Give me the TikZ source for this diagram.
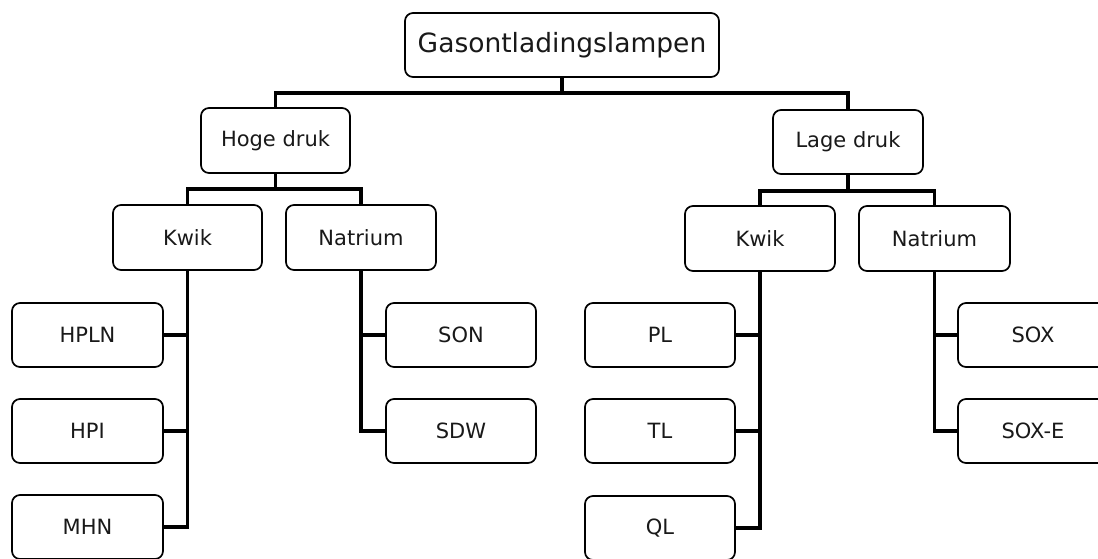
\documentclass[tikz,border=0pt]{standalone}
\usepackage{fontspec}
\setmainfont{DejaVu Sans}
\begin{document}
\begin{tikzpicture}[x=1pt,y=-1pt,
  box/.style={draw=black,line width=1.7pt,rounded corners=8pt,rectangle,inner sep=0pt,
    minimum width=150pt,minimum height=64pt,font=\fontsize{21}{25}\selectfont,text=black!90},
  topbox/.style={box,minimum width=314pt,font=\fontsize{26.5}{30}\selectfont},
  conn/.style={draw=black,line width=3.2pt,line join=miter,line cap=rect}]
\useasboundingbox (0,0) rectangle (1098,558);
\clip (0,0) rectangle (1098,558);
\fill[white] (0,0) rectangle (1098,558);
% nodes
\node[topbox] (top) at (562,45) {Gasontladingslampen};
\node[box,minimum width=149pt,minimum height=65pt] (hoge) at (275.5,140.5) {Hoge druk};
\node[box] (lage) at (848,142) {Lage druk};
\node[box,minimum width=149pt,minimum height=65pt] (lkwik) at (187.5,237.5) {Kwik};
\node[box,minimum height=65pt] (lnat) at (361,237.5) {Natrium};
\node[box,minimum height=65pt] (rkwik) at (760,238.5) {Kwik};
\node[box,minimum width=151pt,minimum height=65pt] (rnat) at (934.5,238.5) {Natrium};
\node[box,minimum width=151pt] (hpln) at (87.5,335) {HPLN};
\node[box,minimum width=151pt] (hpi) at (87.5,431) {HPI};
\node[box,minimum width=151pt] (mhn) at (87.5,527) {MHN};
\node[box] (son) at (461,335) {SON};
\node[box] (sdw) at (461,431) {SDW};
\node[box] (pl) at (660,335) {PL};
\node[box] (tl) at (660,431) {TL};
\node[box] (ql) at (660,528) {QL};
\node[box] (sox) at (1033,335) {SOX};
\node[box] (soxe) at (1033,431) {SOX-E};
% junctions
\coordinate (j0) at (562,93);
\coordinate (j1) at (275.5,189);
\coordinate (j2) at (848,191);
% connectors
\draw[conn] (top.south) -- (j0);
\draw[conn] (hoge.north) -- (hoge.north |- j0) -- (lage.north |- j0) -- (lage.north);
\draw[conn] (hoge.south) -- (j1);
\draw[conn] (lkwik.north) -- (lkwik.north |- j1) -- (lnat.north |- j1) -- (lnat.north);
\draw[conn] (lage.south) -- (j2);
\draw[conn] (rkwik.north) -- (rkwik.north |- j2) -- (rnat.north |- j2) -- (rnat.north);
% left kwik
\draw[conn] (lkwik.south) -- (lkwik.south |- mhn.east) -- (mhn.east);
\draw[conn] (hpln.east) -- (lkwik.south |- hpln.east);
\draw[conn] (hpi.east) -- (lkwik.south |- hpi.east);
% left natrium
\draw[conn] (lnat.south) -- (lnat.south |- sdw.west) -- (sdw.west);
\draw[conn] (son.west) -- (lnat.south |- son.west);
% right kwik
\draw[conn] (rkwik.south) -- (rkwik.south |- ql.east) -- (ql.east);
\draw[conn] (pl.east) -- (rkwik.south |- pl.east);
\draw[conn] (tl.east) -- (rkwik.south |- tl.east);
% right natrium
\draw[conn] (rnat.south) -- (rnat.south |- soxe.west) -- (soxe.west);
\draw[conn] (sox.west) -- (rnat.south |- sox.west);
\end{tikzpicture}
\end{document}
